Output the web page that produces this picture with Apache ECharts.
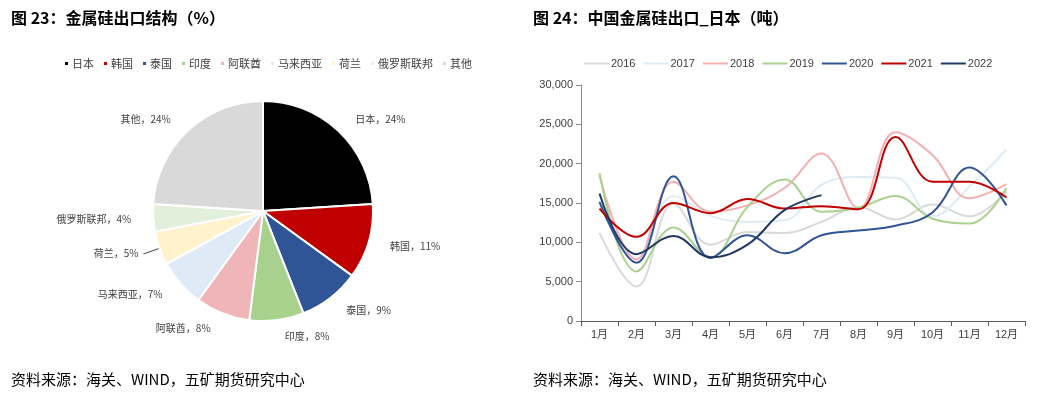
<!DOCTYPE html>
<html>
<head>
<meta charset="utf-8">
<script src="https://cdn.jsdelivr.net/npm/echarts@6/dist/echarts.min.js"></script>
<style>
    html, body { margin: 0; padding: 0; background: #fff; }
    #chart { width: 1042px; height: 398px; }
</style>
</head>
<body>
<div id="chart"></div>
<script>
// 图 23 出口结构
const pieNames = ['日本', '韩国', '泰国', '印度', '阿联酋', '马来西亚', '荷兰', '俄罗斯联邦', '其他'];
const pieValues = [24, 11, 9, 8, 8, 7, 5, 4, 24];
const pieColors = ['#000000', '#C00000', '#2F5597', '#A9D18E', '#F0B5B9', '#DEEBF7', '#FFF2CC', '#E2EFDA', '#D9D9D9'];

// 图 24 出口日本（吨）
const months = ['1月', '2月', '3月', '4月', '5月', '6月', '7月', '8月', '9月', '10月', '11月', '12月'];
const years = ['2016', '2017', '2018', '2019', '2020', '2021', '2022'];
const y2016 = [11200, 4400, 14900, 9700, 11300, 11200, 12600, 14500, 12900, 14800, 13300, 16500];
const y2017 = [15300, 8000, 15900, 13400, 12600, 12800, 17300, 18300, 18200, 13300, 17100, 21800];
const y2018 = [18500, 7800, 17700, 13900, 14700, 16900, 21300, 14300, 24000, 21100, 15600, 17400];
const y2019 = [18800, 6300, 11900, 8100, 14500, 18000, 13900, 14400, 15900, 13000, 12400, 16900];
const y2020 = [15100, 7400, 18400, 8000, 10900, 8600, 10900, 11500, 12100, 13800, 19500, 14700];
const y2021 = [14300, 10700, 15000, 13700, 15500, 14300, 14600, 14200, 23400, 17700, 17700, 15700];
const y2022 = [16200, 8500, 10800, 8100, 9700, 14100, 16000];
const yTicks = [0, 5000, 10000, 15000, 20000, 25000, 30000];
const lineColors = ['#D9D9D9', '#DDEBF7', '#F4B0B0', '#A9D18E', '#2F5597', '#C00000', '#203864'];

const baseFont = '"Liberation Sans", "Noto Sans CJK SC", sans-serif';
const cjkFont = '"Noto Sans CJK SC", sans-serif';

const chart = echarts.init(document.getElementById('chart'));

const pieData = pieNames.map((name, i) => {
    const item = { name: name, value: pieValues[i], itemStyle: { color: pieColors[i] } };
    if (name === '荷兰') {
        item.labelLine = { show: true };
    }
    return item;
});

const lineData = [y2016, y2017, y2018, y2019, y2020, y2021, y2022];
const lineSeries = years.map((year, i) => ({
    name: year,
    type: 'line',
    data: lineData[i],
    smooth: 0.4,
    symbol: 'none',
    z: i + 2,
    lineStyle: { width: 2, color: lineColors[i] },
    itemStyle: { color: lineColors[i] }
}));

const option = {
    backgroundColor: '#fff',
    animation: false,
    textStyle: { fontFamily: baseFont },
    title: [
        {
            text: '图 23：金属硅出口结构（%）',
            left: 6, top: 5,
            textStyle: { fontSize: 16, fontWeight: 'bold', color: '#000', fontFamily: cjkFont }
        },
        {
            text: '图 24：中国金属硅出口_日本（吨）',
            left: 528, top: 5,
            textStyle: { fontSize: 16, fontWeight: 'bold', color: '#000', fontFamily: cjkFont }
        },
        {
            text: '资料来源：海关、WIND，五矿期货研究中心',
            left: 6, top: 367,
            textStyle: { fontSize: 15, fontWeight: 'normal', color: '#000', fontFamily: cjkFont }
        },
        {
            text: '资料来源：海关、WIND，五矿期货研究中心',
            left: 528, top: 367,
            textStyle: { fontSize: 15, fontWeight: 'normal', color: '#000', fontFamily: cjkFont }
        }
    ],
    legend: [
        {
            data: pieNames,
            left: 58, top: 53,
            icon: 'rect',
            itemWidth: 5, itemHeight: 5,
            itemGap: 8,
            textStyle: { fontSize: 11, color: '#404040', fontFamily: cjkFont, padding: [0, 0, 0, -2] }
        },
        {
            data: years,
            left: 579, top: 53,
            icon: 'rect',
            itemWidth: 25, itemHeight: 2,
            itemGap: 8,
            textStyle: { fontSize: 11, color: '#404040', padding: [0, 0, 0, -3] }
        }
    ],
    grid: { left: 581, top: 85, width: 444, height: 236, containLabel: false },
    xAxis: {
        type: 'category',
        data: months,
        boundaryGap: true,
        axisLine: { lineStyle: { color: '#595959', width: 1 } },
        axisTick: { show: true, interval: 0, length: 5, lineStyle: { color: '#595959' } },
        axisLabel: { interval: 0, fontSize: 11, color: '#404040', margin: 8 }
    },
    yAxis: {
        type: 'value',
        min: yTicks[0],
        max: yTicks[yTicks.length - 1],
        interval: yTicks[1] - yTicks[0],
        axisLine: { show: true, lineStyle: { color: '#8C8C8C', width: 1 } },
        axisTick: { show: true, length: 5, lineStyle: { color: '#8C8C8C' } },
        splitLine: { show: false },
        axisLabel: {
            fontSize: 11, color: '#404040', margin: 8,
            formatter: v => v.toLocaleString('en-US')
        }
    },
    series: [
        {
            name: '出口结构',
            type: 'pie',
            center: [263, 211],
            radius: 110,
            startAngle: 90,
            clockwise: true,
            data: pieData,
            itemStyle: { borderColor: '#fff', borderWidth: 2 },
            label: {
                show: true,
                position: 'outside',
                formatter: '{b}，{c}%',
                fontSize: 10,
                color: '#404040',
                fontFamily: cjkFont
            },
            labelLine: { show: false, length: 16, length2: 1, lineStyle: { color: '#404040', width: 1 } },
            emphasis: { disabled: true }
        },
        ...lineSeries
    ]
};

chart.setOption(option);
</script>
</body>
</html>
